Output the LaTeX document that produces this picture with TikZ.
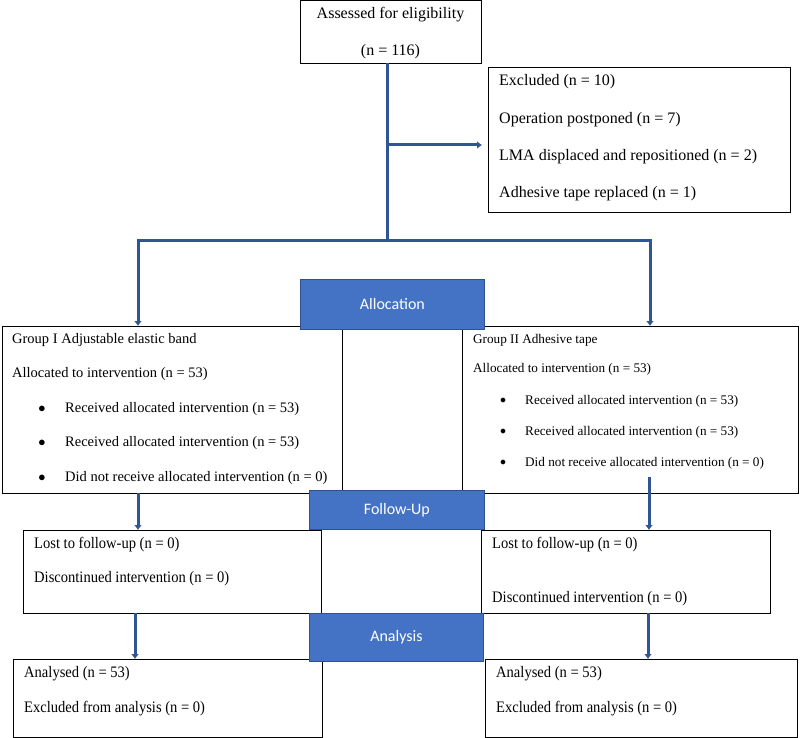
\documentclass[tikz,border=0pt]{standalone}
\usepackage{fontspec}
\setmainfont{Liberation Serif}
\newfontfamily\cond[FakeStretch=0.91]{Liberation Serif}
\newfontfamily\calib{Carlito}
\usetikzlibrary{arrows.meta}
\definecolor{flowblue}{RGB}{47,85,151}
\definecolor{boxblue}{RGB}{68,114,196}
\definecolor{boxedge}{RGB}{47,82,143}
\tikzset{
  box/.style={draw=black, line width=1.3pt, rectangle, inner sep=0, anchor=north west},
  band/.style={fill=boxblue, draw=boxedge, line width=0.8pt, rectangle, inner sep=0, anchor=north west},
  bandtxt/.style={text=white, inner sep=0, font=\calib\fontsize{16}{18}\selectfont},
  txtlg/.style={anchor=west, inner sep=0, font=\fontsize{16}{19}\selectfont},
  txt/.style={anchor=west, inner sep=0, font=\fontsize{14.5}{17}\selectfont},
  txtsm/.style={anchor=west, inner sep=0, font=\fontsize{13.2}{16}\selectfont},
  txtc/.style={anchor=west, inner sep=0, font=\cond\fontsize{16}{19}\selectfont},
  flow/.style={draw=flowblue, line width=3pt},
  arr/.style={flow, -{Latex[length=5pt,width=8pt]}},
}
\begin{document}
\begin{tikzpicture}[x=1pt,y=-1pt]
\useasboundingbox (0,0) rectangle (800,738);
% boxes
\node[box, minimum width=181, minimum height=63] (assess) at (300,0) {};
\node[txtlg, anchor=center] (t1) at (390.5,15) {Assessed for eligibility};
\node[txtlg, anchor=center] (t2) at (390.5,52) {(n = 116)};

\node[box, minimum width=302, minimum height=145] (excl) at (488,67) {};
\node[txtlg] (e1) at (499,82) {Excluded (n = 10)};
\node[txtlg] (e2) at (499,120) {Operation postponed (n = 7)};
\node[txtlg] (e3) at (499,157) {LMA displaced and repositioned (n = 2)};
\node[txtlg] (e4) at (499,194) {Adhesive tape replaced (n = 1)};

\node[box, minimum width=340, minimum height=167] (g1) at (2,326) {};
\node[txt] (g1a) at (12,340) {Group I Adjustable elastic band};
\node[txt] (g1b) at (12,374) {Allocated to intervention (n = 53)};
\node[txt] (g1c) at (65,409) {Received allocated intervention (n = 53)};
\node[txt] (g1d) at (65,443) {Received allocated intervention (n = 53)};
\node[txt] (g1e) at (65,478) {Did not receive allocated intervention (n = 0)};
\node[txt, anchor=center] (b1) at (42,409) {$\bullet$};
\node[txt, anchor=center] (b2) at (42,443) {$\bullet$};
\node[txt, anchor=center] (b3) at (42,478) {$\bullet$};

\node[box, minimum width=336, minimum height=167] (g2) at (462,326) {};
\node[txtsm] (g2a) at (473,340) {Group II Adhesive tape};
\node[txtsm] (g2b) at (473,369) {Allocated to intervention (n = 53)};
\node[txtsm] (g2c) at (525,401) {Received allocated intervention (n = 53)};
\node[txtsm] (g2d) at (525,432) {Received allocated intervention (n = 53)};
\node[txtsm] (g2e) at (525,463) {Did not receive allocated intervention (n = 0)};
\node[txtsm, anchor=center] (b4) at (503,401) {$\bullet$};
\node[txtsm, anchor=center] (b5) at (503,432) {$\bullet$};
\node[txtsm, anchor=center] (b6) at (503,463) {$\bullet$};

\node[box, minimum width=298, minimum height=83] (f1) at (23,530) {};
\node[txtc] (f1a) at (34,545) {Lost to follow-up (n = 0)};
\node[txtc] (f1b) at (34,579) {Discontinued intervention (n = 0)};

\node[box, minimum width=289, minimum height=83] (f2) at (481,530) {};
\node[txtc] (f2a) at (492,545) {Lost to follow-up (n = 0)};
\node[txtc] (f2b) at (492,599) {Discontinued intervention (n = 0)};

\node[box, minimum width=309, minimum height=78] (a1) at (13,659) {};
\node[txtc] (a1a) at (24,674) {Analysed (n = 53)};
\node[txtc] (a1b) at (24,709) {Excluded from analysis (n = 0)};

\node[box, minimum width=312, minimum height=78] (a2) at (485,659) {};
\node[txtc] (a2a) at (496,674) {Analysed (n = 53)};
\node[txtc] (a2b) at (496,709) {Excluded from analysis (n = 0)};

% blue bands
\node[band, minimum width=184, minimum height=50] (alloc) at (300,279) {};
\node[bandtxt] (alloct) at (alloc.center) {Allocation};
\node[band, minimum width=175, minimum height=39] (follow) at (309,490) {};
\node[bandtxt] (followt) at (follow.center) {Follow-Up};
\node[band, minimum width=174, minimum height=48] (anal) at (309,613) {};
\node[bandtxt] (analt) at (anal.center) {Analysis};

% connectors
\coordinate (top) at (387,63);
\coordinate (j1) at (387,145);
\coordinate (j2) at (387,240);
\coordinate (sl) at (138,240);
\coordinate (sr) at (650,240);
\draw[flow] (top) -- (j2);
\draw[arr] (j1) -- ([xshift=-6pt]j1 -| excl.west);
\draw[flow] ([xshift=-1.5pt]sl) -- ([xshift=1.5pt]sr);
\draw[arr] (sl) -- (sl |- g1.north);
\draw[arr] (sr) -- (sr |- g2.north);
\coordinate (fl) at (138,493);
\coordinate (fr) at (649,477);
\draw[arr] (fl) -- (fl |- f1.north);
\draw[arr] (fr) -- (fr |- f2.north);
\coordinate (al) at (135,613);
\coordinate (ar) at (648,613);
\draw[arr] (al) -- (al |- a1.north);
\draw[arr] (ar) -- (ar |- a2.north);
\end{tikzpicture}
\end{document}
